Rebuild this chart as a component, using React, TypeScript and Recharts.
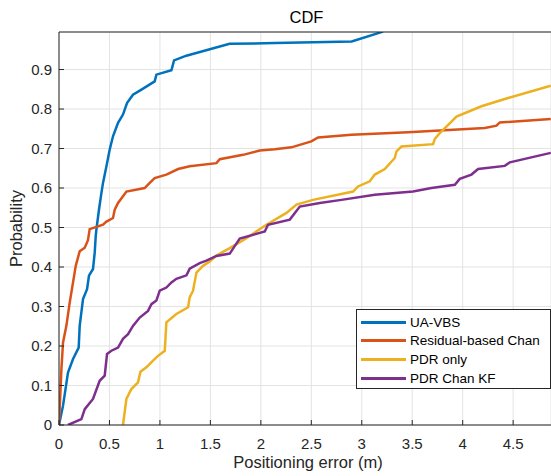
import { CartesianGrid, Legend, Line, LineChart, XAxis, YAxis } from 'recharts';

// positioning error (m) and cumulative probability
const uaVbsErr = [0, 0.04, 0.089, 0.139, 0.195, 0.205, 0.238, 0.278, 0.297, 0.337, 0.354, 0.364, 0.37, 0.396, 0.42, 0.436, 0.47, 0.502, 0.535, 0.585, 0.634, 0.674, 0.733, 0.817, 0.948, 0.965, 1.114, 1.14, 1.262, 1.69, 2.14, 2.9, 3.2, 3.22];
const uaVbsProb = [0, 0.049, 0.133, 0.167, 0.196, 0.251, 0.319, 0.344, 0.378, 0.395, 0.437, 0.479, 0.494, 0.545, 0.587, 0.613, 0.655, 0.697, 0.731, 0.765, 0.786, 0.815, 0.836, 0.849, 0.87, 0.887, 0.898, 0.923, 0.935, 0.965, 0.967, 0.971, 0.995, 1];

const chanErr = [0, 0.024, 0.04, 0.073, 0.106, 0.139, 0.166, 0.205, 0.255, 0.287, 0.304, 0.436, 0.47, 0.535, 0.552, 0.585, 0.634, 0.668, 0.849, 0.899, 0.948, 1.064, 1.18, 1.295, 1.56, 1.593, 1.824, 1.989, 2.138, 2.303, 2.5, 2.567, 2.898, 3.459, 4.219, 4.335, 4.368, 4.873];
const chanProb = [0, 0.142, 0.209, 0.251, 0.31, 0.361, 0.403, 0.44, 0.449, 0.468, 0.496, 0.507, 0.515, 0.524, 0.545, 0.562, 0.579, 0.591, 0.6, 0.613, 0.625, 0.634, 0.648, 0.655, 0.663, 0.673, 0.684, 0.695, 0.698, 0.703, 0.718, 0.728, 0.735, 0.741, 0.752, 0.758, 0.766, 0.775];

const pdrErr = [0.634, 0.668, 0.717, 0.783, 0.807, 0.866, 0.932, 0.981, 1.048, 1.064, 1.163, 1.279, 1.295, 1.328, 1.362, 1.427, 1.494, 1.56, 1.692, 1.857, 2.055, 2.254, 2.353, 2.517, 2.914, 2.963, 3.079, 3.129, 3.228, 3.327, 3.344, 3.393, 3.707, 3.723, 3.773, 3.856, 3.939, 4.186, 4.45, 4.873];
const pdrProb = [0, 0.066, 0.091, 0.108, 0.135, 0.146, 0.163, 0.175, 0.188, 0.26, 0.281, 0.298, 0.323, 0.34, 0.386, 0.403, 0.414, 0.429, 0.448, 0.473, 0.507, 0.537, 0.558, 0.57, 0.591, 0.604, 0.617, 0.634, 0.648, 0.676, 0.693, 0.705, 0.711, 0.724, 0.739, 0.76, 0.781, 0.807, 0.828, 0.859];

const kfErr = [0.089, 0.222, 0.255, 0.337, 0.403, 0.453, 0.476, 0.519, 0.585, 0.634, 0.684, 0.733, 0.8, 0.882, 0.916, 0.965, 0.998, 1.064, 1.114, 1.163, 1.263, 1.295, 1.394, 1.461, 1.56, 1.692, 1.741, 1.791, 2.039, 2.071, 2.287, 2.386, 2.584, 2.799, 3.129, 3.508, 3.69, 3.922, 3.971, 4.087, 4.153, 4.417, 4.467, 4.873];
const kfProb = [0, 0.015, 0.04, 0.066, 0.112, 0.125, 0.18, 0.188, 0.196, 0.218, 0.23, 0.251, 0.272, 0.289, 0.306, 0.315, 0.34, 0.348, 0.361, 0.37, 0.379, 0.396, 0.41, 0.416, 0.428, 0.434, 0.453, 0.472, 0.49, 0.507, 0.52, 0.553, 0.562, 0.57, 0.583, 0.591, 0.6, 0.608, 0.623, 0.634, 0.648, 0.656, 0.665, 0.689];

const seriesNames = ['UA-VBS', 'Residual-based Chan', 'PDR only', 'PDR Chan KF'];
const xTicks = [0, 0.5, 1, 1.5, 2, 2.5, 3, 3.5, 4, 4.5];
const yTicks = [0, 0.1, 0.2, 0.3, 0.4, 0.5, 0.6, 0.7, 0.8, 0.9];

const colors = ['#0072BD', '#D95319', '#EDB120', '#7E2F8E'];
const axisColor = '#262626';

const toPoints = (xs: number[], ys: number[]) => xs.map((x, i) => ({ x, y: ys[i] }));

const series = [
  toPoints(uaVbsErr, uaVbsProb),
  toPoints(chanErr, chanProb),
  toPoints(pdrErr, pdrProb),
  toPoints(kfErr, kfProb),
];

function LegendBox() {
  return (
    <div
      style={{
        boxSizing: 'border-box',
        width: 195,
        height: 80,
        border: `1px solid ${axisColor}`,
        background: '#fff',
        paddingTop: 3,
        paddingLeft: 4,
      }}
    >
      {seriesNames.map((name, i) => (
        <div key={name} style={{ display: 'flex', alignItems: 'center', height: 18.6 }}>
          <span style={{ width: 45, height: 0, borderTop: `3px solid ${colors[i]}` }} />
          <span style={{ marginLeft: 4, fontSize: 13.5, color: '#000', whiteSpace: 'nowrap' }}>{name}</span>
        </div>
      ))}
    </div>
  );
}

export default function App() {
  const tickStyle = { fill: axisColor, fontSize: 15 };
  return (
    <div
      style={{
        position: 'absolute',
        left: 0,
        top: 0,
        width: 551,
        height: 476,
        overflow: 'hidden',
        background: '#fff',
        fontFamily: '"Liberation Sans", Arial, Helvetica, sans-serif',
      }}
    >
      <LineChart width={551} height={476} margin={{ top: 0, right: 0, bottom: 0, left: 0 }}>
        <CartesianGrid stroke="#e3e3e3" strokeWidth={1} />
        <XAxis
          type="number"
          dataKey="x"
          domain={[0, 4.875]}
          allowDataOverflow
          ticks={xTicks}
          height={51}
          tickSize={-5}
          tickMargin={18}
          stroke={axisColor}
          tick={tickStyle}
          label={{ value: 'Positioning error (m)', position: 'insideBottom', offset: 7.7, dx: 3, fill: axisColor, fontSize: 16.5 }}
        />
        <XAxis
          xAxisId="top"
          orientation="top"
          type="number"
          dataKey="x"
          domain={[0, 4.875]}
          allowDataOverflow
          ticks={xTicks}
          height={32}
          tickSize={-5}
          tick={false}
          stroke={axisColor}
          label={{ value: 'CDF', position: 'insideTop', offset: 11.7, dx: 1.5, fill: '#000', fontSize: 16.5 }}
        />
        <YAxis
          type="number"
          domain={[0, 0.995]}
          allowDataOverflow
          ticks={yTicks}
          width={59}
          tickSize={-5}
          tickMargin={12}
          stroke={axisColor}
          tick={tickStyle}
          label={{ value: 'Probability', angle: -90, position: 'center', dx: -13.5, fill: axisColor, fontSize: 16.5 }}
        />
        <Legend
          layout="vertical"
          align="center"
          verticalAlign="middle"
          content={() => <LegendBox />}
          wrapperStyle={{ left: 356, top: 309, width: 195, height: 80 }}
        />
        {series.map((points, i) => (
          <Line
            key={seriesNames[i]}
            data={points}
            dataKey="y"
            name={seriesNames[i]}
            type="linear"
            stroke={colors[i]}
            strokeWidth={2.5}
            dot={false}
            activeDot={false}
            isAnimationActive={false}
          />
        ))}
      </LineChart>
    </div>
  );
}
